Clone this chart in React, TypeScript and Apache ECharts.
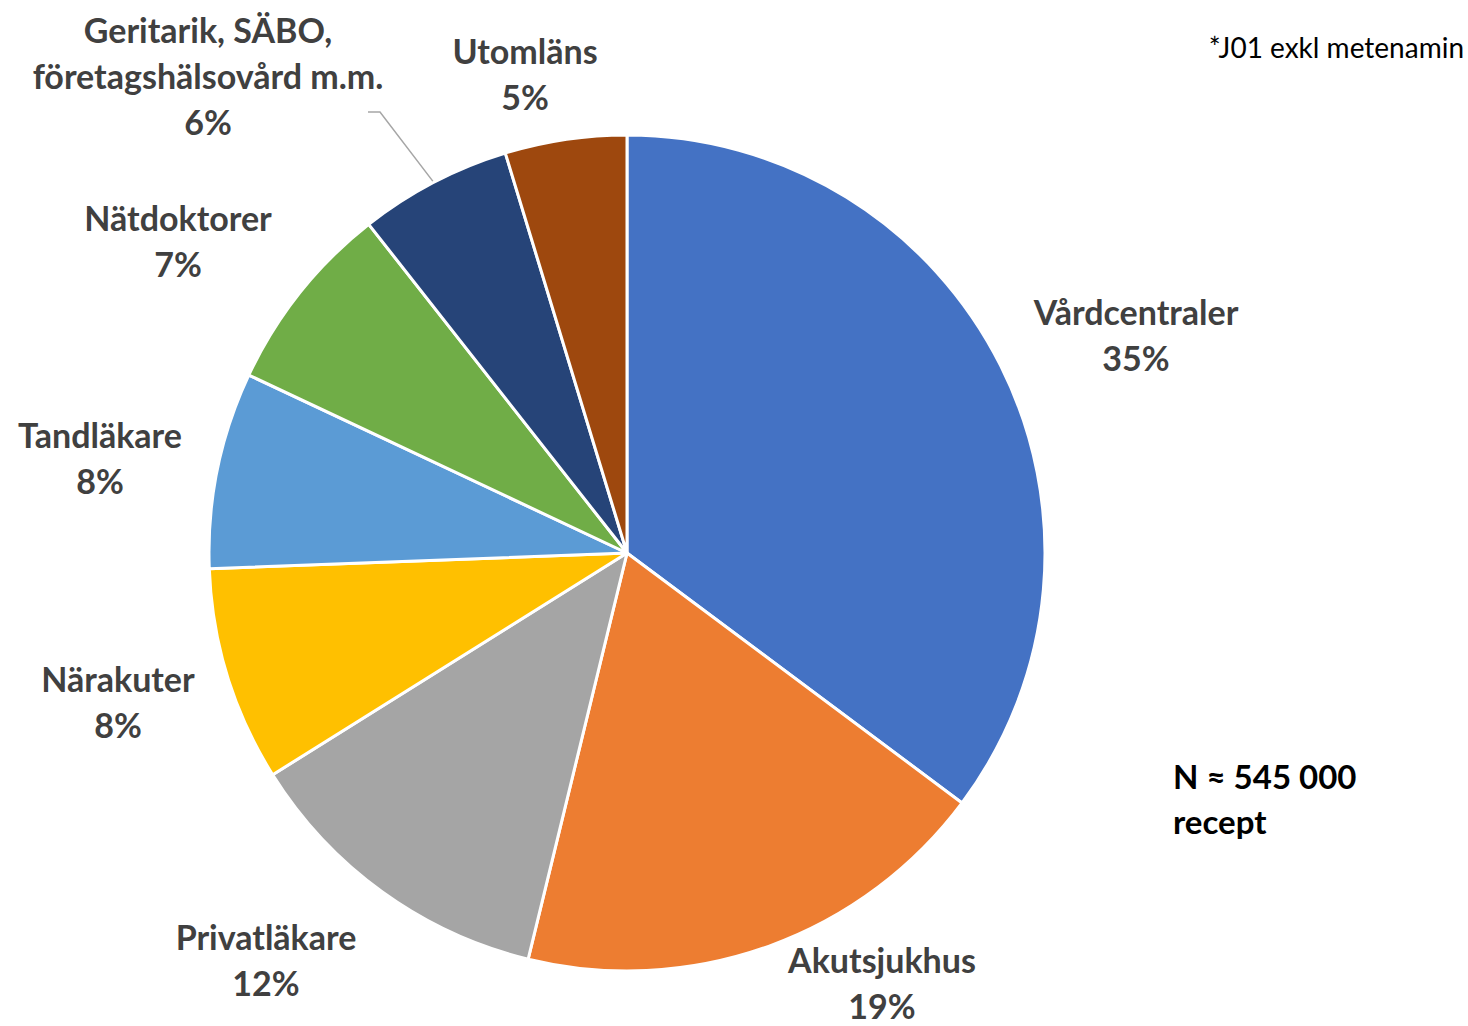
import React, { useEffect, useRef } from "react";
import * as echarts from "echarts";

const categories = [
  "Vårdcentraler",
  "Akutsjukhus",
  "Privatläkare",
  "Närakuter",
  "Tandläkare",
  "Nätdoktorer",
  "Geritarik, SÄBO,\nföretagshälsovård m.m.",
  "Utomläns",
];
const shares = [35.2, 18.6, 12.3, 8.3, 7.6, 7.4, 5.9, 4.7];
const colors = ["#4472C4", "#ED7D31", "#A5A5A5", "#FFC000", "#5B9BD5", "#70AD47", "#264478", "#9E480E"];
const footnote = "*J01 exkl metenamin";
const totalNote = "N ≈ 545 000\nrecept";

// label block centres (layout only)
const labelPos: [number, number][] = [
  [1136, 334],
  [882, 982],
  [266, 959],
  [118, 701],
  [100, 457],
  [178, 240],
  [208, 75],
  [525, 73],
];

const CX = 627;
const CY = 553;
const R = 418;
const FONT = "Lato, 'Open Sans', sans-serif";

export default function App() {
  const ref = useRef<HTMLDivElement>(null);
  useEffect(() => {
    if (!ref.current) return;
    const chart = echarts.init(ref.current, undefined, { renderer: "svg" });
    const total = shares.reduce((a, b) => a + b, 0);
    const cum: number[] = [];
    let acc = 0;
    shares.forEach((v) => {
      cum.push(acc + v / 2);
      acc += v;
    });
    chart.setOption({
      animation: false,
      backgroundColor: "#ffffff",
      graphic: [
        {
          type: "text",
          right: 4,
          top: 33,
          style: { text: footnote, font: `400 28px ${FONT}`, fill: "#000000" },
        },
        {
          type: "text",
          left: 1173,
          top: 753,
          style: { text: totalNote, font: `700 33px ${FONT}`, fill: "#000000", lineHeight: 45 },
        },
      ],
      series: [
        {
          type: "pie",
          center: [CX, CY],
          radius: R,
          startAngle: 90,
          clockwise: true,
          label: {
            show: true,
            position: "outside",
            formatter: (p: any) => `${p.name}\n${Math.round(p.value)}%`,
            fontFamily: FONT,
            fontWeight: 700,
            fontSize: 34,
            lineHeight: 46,
            color: "#404040",
            align: "center",
            overflow: "none",
          },
          labelLine: { show: false },
          labelLayout: (params: any) => {
            const i = params.dataIndex;
            const [x, y] = labelPos[i];
            const res: any = { x, y, align: "center", verticalAlign: "middle" };
            if (i === 6) {
              const ang = ((cum[i] / total) * 360 * Math.PI) / 180;
              const sx = CX + R * Math.sin(ang);
              const sy = CY - R * Math.cos(ang);
              res.labelLinePoints = [
                [sx, sy],
                [380, 112],
                [368, 112],
              ];
            }
            return res;
          },
          itemStyle: { borderColor: "#ffffff", borderWidth: 3 },
          emphasis: { disabled: true },
          data: categories.map((name, i) => ({
            name,
            value: shares[i],
            itemStyle: { color: colors[i] },
            labelLine:
              i === 6
                ? { show: true, lineStyle: { color: "#A6A6A6", width: 1.5 } }
                : { show: false },
          })),
        },
      ],
    });
    return () => chart.dispose();
  }, []);
  return (
    <div
      ref={ref}
      style={{ position: "fixed", left: 0, top: 0, width: 1468, height: 1026 }}
    />
  );
}
